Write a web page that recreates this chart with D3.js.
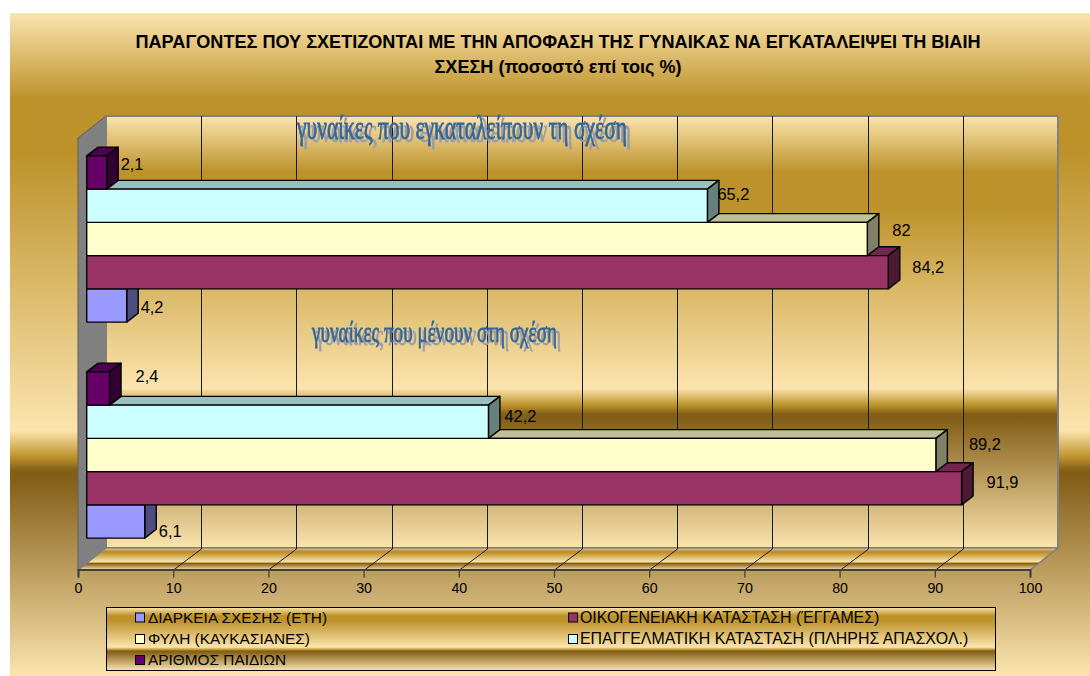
<!DOCTYPE html>
<html><head><meta charset="utf-8">
<script src="https://cdn.jsdelivr.net/npm/d3@7"></script>
<style>html,body{margin:0;padding:0;background:#fff;overflow:hidden}svg{display:block}text{font-family:"Liberation Sans",Arial,sans-serif;fill:#000}</style>
</head><body><svg id="c" width="1090" height="676"></svg>
<script>
const titleLines=["ΠΑΡΑΓΟΝΤΕΣ ΠΟΥ ΣΧΕΤΙΖΟΝΤΑΙ ΜΕ ΤΗΝ ΑΠΟΦΑΣΗ ΤΗΣ ΓΥΝΑΙΚΑΣ ΝΑ ΕΓΚΑΤΑΛΕΙΨΕΙ ΤΗ ΒΙΑΙΗ","ΣΧΕΣΗ (ποσοστό επί τοις %)"];
const categories=["γυναίκες που εγκαταλείπουν τη σχέση","γυναίκες που μένουν στη σχέση"];
const seriesNames=["ΑΡΙΘΜΟΣ ΠΑΙΔΙΩΝ","ΕΠΑΓΓΕΛΜΑΤΙΚΗ ΚΑΤΑΣΤΑΣΗ (ΠΛΗΡΗΣ ΑΠΑΣΧΟΛ.)","ΦΥΛΗ (ΚΑΥΚΑΣΙΑΝΕΣ)","ΟΙΚΟΓΕΝΕΙΑΚΗ ΚΑΤΑΣΤΑΣΗ (ΈΓΓΑΜΕΣ)","ΔΙΑΡΚΕΙΑ ΣΧΕΣΗΣ (ΕΤΗ)"];
const children=[2.1,2.4];
const employment=[65.2,42.2];
const race=[82,89.2];
const married=[84.2,91.9];
const duration=[4.2,6.1];
const seriesValues=[children,employment,race,married,duration];
const seriesColors=["#660066","#CCFFFF","#FFFFCC","#993366","#9999FF"];
const legendOrder=[4,3,2,1,0];
const xTicks=d3.range(0,101,10);
// hand-placed label offsets from the bar end, by series then category
const labelShift=[[[14,-9],[26,-13]],[[10,-12],[16,-6]],[[25,-9],[33,-11]],[[24,-5],[25,-6]],[[14,2],[14,9.5]]];

const svg=d3.select("#c"),defs=svg.append("defs");
const stops=[[0,"#FBE4AE"],[.13,"#BD922A"],[.21,"#BD922A"],[.63,"#FBE4AE"],[.67,"#BD922A"],[.69,"#835E17"],[.70,"#835E17"],[1,"#FBE4AE"]];
const gold=defs.append("linearGradient").attr("id","gold").attr("x1",0).attr("y1",0).attr("x2",0).attr("y2",1);
gold.selectAll("stop").data(stops).join("stop").attr("offset",d=>d[0]).attr("stop-color",d=>d[1]);
defs.append("filter").attr("id","waShadow").attr("x","-5%").attr("y","-30%").attr("width","110%").attr("height","160%")
  .append("feDropShadow").attr("dx",4).attr("dy",3).attr("stdDeviation",0).attr("flood-color","#9a9da6").attr("flood-opacity",1);

const poly=pts=>pts.map(p=>p.join(",")).join(" ");
const W={l:106,t:116,r:1058,b:548},F={l:78,r:1030,b:570,t:138};
const x=d3.scaleLinear().domain([0,100]).range([F.l,F.r]);
const depth=[28,-22], plane=[8.7,-7], barD=[11.5,-8.8];
const yCat=d3.scaleBand().domain(categories).range([F.t+plane[1],F.b+plane[1]]);
const ySer=d3.scaleBand().domain(seriesNames).range([0,yCat.bandwidth()]).paddingInner(0).paddingOuter(.75);

svg.append("rect").attr("x",10).attr("y",13).attr("width",1080).attr("height",663).attr("fill","url(#gold)");
// title
svg.append("g").selectAll("text").data(titleLines).join("text")
 .attr("x",558).attr("y",(d,i)=>47.5+i*25).attr("text-anchor","middle")
 .attr("font-size",18.1).attr("font-weight",700).text(d=>d);
// walls
svg.append("polygon").attr("points",poly([[F.l,F.t],[W.l,W.t],[W.l,W.b],[F.l,F.b]])).attr("fill","#808080").attr("stroke","#606060").attr("stroke-width",1);
svg.append("rect").attr("x",W.l).attr("y",W.t).attr("width",W.r-W.l).attr("height",W.b-W.t).attr("fill","url(#gold)").attr("stroke","#808080").attr("stroke-width",2);
svg.append("polygon").attr("points",poly([[F.l,F.b],[W.l,W.b],[W.r,W.b],[F.r,F.b]])).attr("fill","url(#gold)").attr("stroke","#808080").attr("stroke-width",1.5);
// grid
const grid=svg.append("g").attr("fill","none").attr("stroke","#1a1a1a").attr("stroke-width",1);
xTicks.slice(1,-1).forEach(t=>{
  const fx=Math.round(x(t))+.5;
  grid.append("path").attr("d",`M${fx},${F.b}L${fx+depth[0]},${F.b+depth[1]+1}V${W.t}`);
});
// axis
const ax=d3.axisBottom(x).tickValues(xTicks).tickSize(8).tickPadding(5);
const axG=svg.append("g").attr("transform",`translate(0,${F.b-.5})`).call(ax);
axG.selectAll("line,path").attr("stroke","#404040").attr("stroke-width",1.3);
axG.select("path").attr("stroke-width",2);
axG.selectAll("text").attr("font-size",14.2).attr("font-family",'"Liberation Sans"').attr("fill","#000");
// wordart
const wa=[{len:330,x:297,y:139,sz:33},{len:245,x:312,y:342,sz:30}];
categories.forEach((c,i)=>{
  svg.append("text").attr("x",wa[i].x).attr("y",wa[i].y).attr("font-size",wa[i].sz)
     .attr("filter","url(#waShadow)")
     .style("font-family",'"Liberation Serif"').style("fill","#336699").style("stroke","#336699").style("stroke-width",.8)
     .attr("textLength",wa[i].len).attr("lengthAdjust","spacingAndGlyphs").text(c);
});
// bars: lower series first so upper faces overlap correctly
const shade=(c,k)=>d3.rgb(d3.color(c).r*k,d3.color(c).g*k,d3.color(c).b*k).formatHex();
const barsG=svg.append("g");
const x0=x(0)+plane[0];
const bx=v=>x(v)+plane[0];
d3.range(seriesNames.length-1,-1,-1).forEach(s=>{
  categories.forEach((c,i)=>{
    const v=seriesValues[s][i],col=seriesColors[s];
    const y0=yCat(c)+ySer(seriesNames[s]),y1=y0+ySer.bandwidth(),xe=bx(v);
    const g=barsG.append("g").attr("stroke","#000").attr("stroke-width",1.4).attr("stroke-linejoin","round");
    g.append("polygon").attr("points",poly([[x0,y0],[x0+barD[0],y0+barD[1]],[xe+barD[0],y0+barD[1]],[xe,y0]])).attr("fill",shade(col,.75));
    g.append("polygon").attr("points",poly([[xe,y0],[xe+barD[0],y0+barD[1]],[xe+barD[0],y1+barD[1]],[xe,y1]])).attr("fill",shade(col,.5));
    g.append("rect").attr("x",x0).attr("y",y0).attr("width",xe-x0).attr("height",y1-y0).attr("fill",col);
  });
});
// value labels
const fmt=v=>String(v).replace(".",",");
d3.range(seriesNames.length).forEach(s=>categories.forEach((c,i)=>{
  const v=seriesValues[s][i],sh=labelShift[s][i];
  svg.append("text").attr("x",bx(v)+sh[0]).attr("y",yCat(c)+ySer(seriesNames[s])+ySer.bandwidth()/2+sh[1]+6)
   .attr("font-size",16.4).text(fmt(v));
}));
// legend
const L={x:106.5,y:607.5,w:889,h:63};
svg.append("rect").attr("x",L.x).attr("y",L.y).attr("width",L.w).attr("height",L.h).attr("fill","url(#gold)").attr("stroke","#000").attr("stroke-width",1);
const colX=[135,568],rowY=[617.5,639,660];
legendOrder.forEach((s,k)=>{
  const cx=colX[k%2],cy=rowY[Math.floor(k/2)];
  svg.append("rect").attr("x",cx+.5).attr("y",cy-4.5).attr("width",9).attr("height",9).attr("fill",seriesColors[s]).attr("stroke","#000").attr("stroke-width",1);
  svg.append("text").attr("x",cx+(k%2?12:13)).attr("y",cy+5.2).attr("font-size",k%2?15.9:15.4).text(seriesNames[s]);
});
</script></body></html>
